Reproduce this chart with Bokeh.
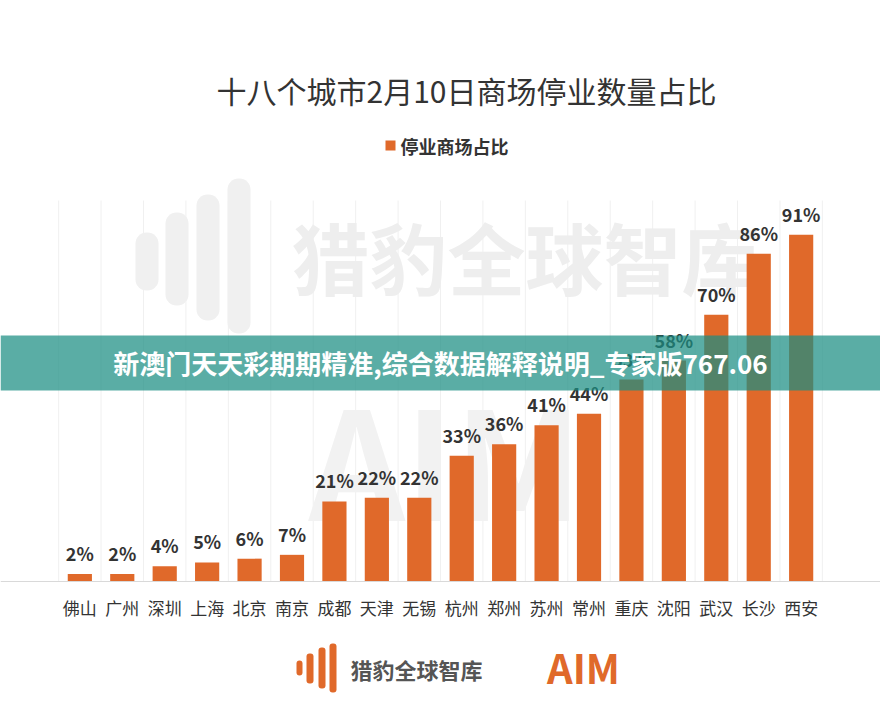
from bokeh.plotting import figure
from bokeh.models import ColumnDataSource, FactorRange, Range1d, Label, BoxAnnotation, Span
from bokeh.core.properties import value
from bokeh.embed import file_html
from bokeh.resources import INLINE

cities = ["佛山", "广州", "深圳", "上海", "北京", "南京", "成都", "天津", "无锡",
          "杭州", "郑州", "苏州", "常州", "重庆", "沈阳", "武汉", "长沙", "西安"]
shares = [2, 2, 4, 5, 6, 7, 21, 22, 22, 33, 36, 41, 44, 53, 58, 70, 86, 91]
share_labels = [f"{v}%" for v in shares]

title_text = "十八个城市2月10日商场停业数量占比"
legend_text = "停业商场占比"
banner_text = "新澳门天天彩期期精准,综合数据解释说明_专家版767.06"
brand_text = "猎豹全球智库"

W, H = 880, 725
FONT = "Noto Sans CJK SC"
ORANGE = "#E0692A"
DARK = "#333333"

# plot geometry (pixels): baseline at 581, 100% at 200
BASE_PX, TOP_PX = 581, 200
ppu = (BASE_PX - TOP_PX) / 100.0
y_start = -(H - BASE_PX) / ppu
y_end = 100 + TOP_PX / ppu

p = figure(width=W, height=H,
           x_range=FactorRange(*cities, range_padding=1.37, range_padding_units="absolute"),
           y_range=Range1d(y_start, y_end),
           output_backend="svg", toolbar_location=None,
           min_border=0)
p.outline_line_color = None
p.background_fill_color = "white"
p.border_fill_color = "white"
p.xaxis.visible = False
p.yaxis.visible = False
p.grid.visible = False

# vertical separators between categories (category edges via factor offsets)
sep_x = [(c, -0.5) for c in cities] + [(cities[-1], 0.5)]
p.segment(x0=sep_x, x1=sep_x, y0=[0] * len(sep_x), y1=[100] * len(sep_x),
          line_color="#f0f0f0", line_width=1, level="underlay")

def clabel(text, x, y, size, color, style="normal", align="center", level="annotation"):
    lab = Label(x=x, y=y, x_units="canvas", y_units="canvas", text=text,
                text_font=FONT, text_font_size=f"{size}px", text_color=color,
                text_font_style=style, text_align=align, text_baseline="middle",
                level=level)
    p.add_layout(lab)
    return lab

def cbox(l, t, r, b, color, alpha=1.0, level="annotation", radius=0):
    box = BoxAnnotation(left=l, right=r, top=t, bottom=b,
                        left_units="canvas", right_units="canvas",
                        top_units="canvas", bottom_units="canvas",
                        fill_color=color, fill_alpha=alpha, line_color=None,
                        level=level, border_radius=radius)
    p.add_layout(box)
    return box

# watermark
for (l, t, r, b) in [(135, 232, 158, 290), (165, 212, 188, 305), (196, 194, 219, 320), (227, 178, 250, 333)]:
    cbox(l, t, r, b, "#f0f0f0", level="underlay", radius=11)
clabel(brand_text, 525, 255, 78, "#eeeeee", style="bold", level="underlay")
clabel("AIM", 445, 455, 150, "#f2f2f2", style="bold", level="underlay")

src = ColumnDataSource(dict(city=cities, share=shares, lab=share_labels, zero=[0] * len(cities)))
p.vbar(x="city", top="share", width=0.57, source=src, fill_color=ORANGE, line_color=None)
p.text(x="city", y="share", text="lab", source=src, text_align="center", text_baseline="bottom",
       y_offset=-8, text_font=value(FONT), text_font_size="18px", text_font_style="bold",
       text_color=DARK)

# baseline and category labels
p.add_layout(Span(location=0, dimension="width", line_color="#d9d9d9", line_width=1))
p.text(x="city", y="zero", text="city", source=src, text_align="center", text_baseline="middle",
       y_offset=26, text_font=value(FONT), text_font_size="17px", text_color=DARK)

# title and legend
clabel(title_text, 466, 89, 30, DARK)
cbox(385, 140, 395, 150, ORANGE)
clabel(legend_text, 400, 145, 18, DARK, style="bold", align="left")

# banner overlay
cbox(0, 335, 880, 390, "#1B8E82", alpha=0.72, level="overlay")
clabel(banner_text, 440, 362, 26, "white", style="bold", level="overlay")

# footer brand
for (l, t, r, b) in [(296, 660, 302, 675), (306, 653, 313, 683), (318, 647, 325, 688), (329, 643, 336, 692)]:
    cbox(l, t, r, b, ORANGE, radius=3)
clabel(brand_text, 416, 668, 22, "#555555", style="bold")
clabel("AIM", 583, 666, 40, ORANGE, style="bold")

open("out.html", "w").write(file_html(p, INLINE))
